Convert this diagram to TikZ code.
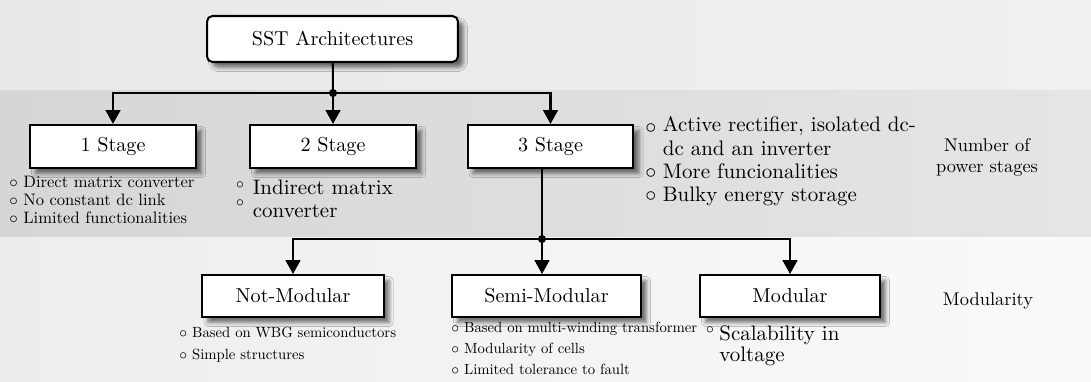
\documentclass[tikz,border=0pt]{standalone}
\usepackage{fontspec}
\setmainfont{lmroman10-regular.otf}
\usetikzlibrary{arrows.meta,shadows.blur}
\definecolor{topL}{RGB}{233,233,233}
\definecolor{topR}{RGB}{240,240,240}
\definecolor{midL}{RGB}{214,214,214}
\definecolor{midR}{RGB}{229,229,229}
\definecolor{botL}{RGB}{237,237,237}
\definecolor{botR}{RGB}{250,250,250}
\tikzset{
  boxshadow/.style={blur shadow={shadow xshift=3pt,shadow yshift=-3pt,shadow blur radius=2.2pt,shadow opacity=55}},
  box/.style={draw,line width=1.1pt,fill=white,inner sep=0pt,boxshadow,
    font=\fontsize{10.95}{13}\selectfont},
  stagebox/.style={box,minimum width=90.2pt,minimum height=23.4pt},
  modbox/.style={box,minimum height=22.8pt},
  conn/.style={line width=1.1pt},
  arr/.style={conn,-{Triangle[width=8pt,length=7.5pt]}},
  junct/.style={fill=black},
  notenine/.style={anchor=base west,inner sep=0pt,font=\fontsize{9}{10}\selectfont},
  noteeight/.style={anchor=base west,inner sep=0pt,font=\fontsize{8}{9}\selectfont},
  notebig/.style={anchor=base west,inner sep=0pt,font=\fontsize{11.4}{13}\selectfont},
  bulbig/.style={inner sep=0pt,font=\fontsize{11.6}{13}\selectfont},
  bulsmall/.style={inner sep=0pt,font=\fontsize{8.1}{9}\selectfont},
  sidelabel/.style={anchor=base,inner sep=0pt,font=\fontsize{10}{12}\selectfont}
}
\begin{document}
\begin{tikzpicture}[x=0.5435pt,y=-0.5435pt]
\useasboundingbox (0,0) rectangle (1091,382);
% background bands
\shade[left color=topL,right color=topR] (0,0) rectangle (1091,91);
\shade[left color=midL,right color=midR] (0,91) rectangle (1091,238);
\shade[left color=botL,right color=botR] (0,238) rectangle (1091,382);

% nodes
\node[box,rounded corners=3pt,minimum width=136.4pt,minimum height=25pt] (sst) at (332.5,39) {SST Architectures};
\node[stagebox] (s1) at (113,146.5) {1 Stage};
\node[stagebox] (s2) at (333,146.5) {2 Stage};
\node[stagebox] (s3) at (550.5,146.5) {3 Stage};
\node[modbox,minimum width=98.4pt] (nm) at (293,296) {Not-Modular};
\node[modbox,minimum width=102.7pt] (sm) at (546.5,296) {Semi-Modular};
\node[modbox,minimum width=97.8pt] (mo) at (790,296) {Modular};

% junctions
\coordinate (j1) at (333,93);
\coordinate (j2) at (542,239);

% connectors
\draw[conn] (sst) -- (j1);
\draw[arr] (j1) -| (s1);
\draw[arr] (j1) -- (s2);
\draw[arr] (j1) -| (s3);
\draw[conn] (s3.south -| j2) -- (j2);
\draw[arr] (j2) -| (nm);
\draw[arr] (j2) -- (j2 |- sm.north);
\draw[arr] (j2) -| (mo);
\fill[junct] (j1) circle[radius=2.2pt];
\fill[junct] (j2) circle[radius=2.2pt];

% 1 Stage notes
\node[notenine] (n11) at (9,188) {$\circ$ Direct matrix converter};
\node[notenine] (n12) at (9,206) {$\circ$ No constant dc link};
\node[notenine] (n13) at (9,224) {$\circ$ Limited functionalities};

% 2 Stage notes
\node[bulsmall] (b21) at (240,185) {$\circ$};
\node[notebig] (n21) at (252.5,195) {Indirect matrix};
\node[bulsmall] (b22) at (240,203) {$\circ$};
\node[notebig] (n22) at (252.5,218) {converter};

% 3 Stage notes
\node[bulbig] (b31) at (651,129) {$\circ$};
\node[notebig] (n31) at (662.5,132) {Active rectifier, isolated dc-};
\node[notebig] (n32) at (662.5,156) {dc and an inverter};
\node[bulbig] (b33) at (651,174) {$\circ$};
\node[notebig] (n33) at (662.5,179) {More funcionalities};
\node[bulbig] (b34) at (651,196.5) {$\circ$};
\node[notebig] (n34) at (662.5,202) {Bulky energy storage};

% side labels
\node[sidelabel] (nps1) at (987,152) {Number of};
\node[sidelabel] (nps2) at (987,173) {power stages};
\node[sidelabel] (modl) at (988,306) {Modularity};

% Not-Modular notes
\node[noteeight] (n41) at (179,338) {$\circ$ Based on WBG semiconductors};
\node[noteeight] (n42) at (179,360) {$\circ$ Simple structures};

% Semi-Modular notes
\node[noteeight] (n51) at (451,333) {$\circ$ Based on multi-winding transformer};
\node[noteeight] (n52) at (451,354) {$\circ$ Modularity of cells};
\node[noteeight] (n53) at (451,375) {$\circ$ Limited tolerance to fault};

% Modular notes
\node[bulsmall] (b61) at (710,330) {$\circ$};
\node[notebig] (n61) at (719,341) {Scalability in};
\node[notebig] (n62) at (719,362) {voltage};
\end{tikzpicture}
\end{document}
